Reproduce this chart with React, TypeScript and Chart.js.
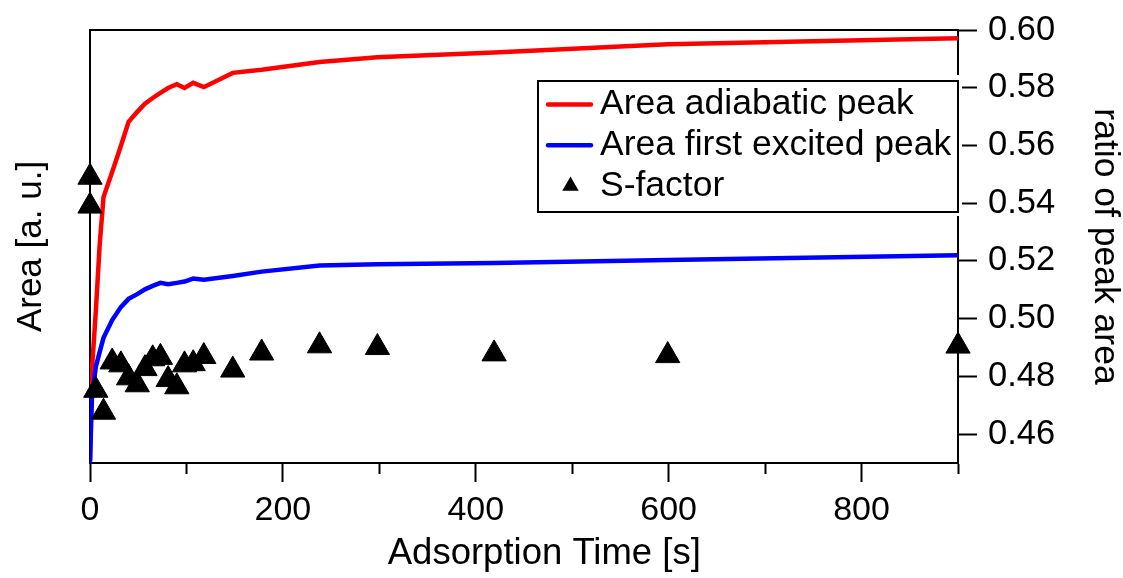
import React, { useEffect, useRef } from 'react';
import { Chart, registerables } from 'chart.js';

Chart.register(...registerables);

// ---- data ----
const lineTimes = [0, 2, 6, 10, 14, 23, 32, 40, 49, 57, 65, 73, 81, 90, 98, 107, 118, 148, 178, 238, 298, 419, 599, 900];
const adiabaticArea = [0.7, 21.5, 34.9, 50.3, 61.4, 67.2, 73.2, 78.8, 81.1, 83.0, 84.3, 85.5, 86.6, 87.5, 86.6, 87.8, 86.8, 90.1, 90.8, 92.6, 93.7, 94.8, 96.7, 98.1];
const excitedArea = [0, 15.2, 22.2, 25.6, 28.9, 33.0, 36.0, 37.9, 39.0, 40.1, 40.9, 41.6, 41.3, 41.6, 41.9, 42.6, 42.3, 43.2, 44.2, 45.6, 45.9, 46.2, 46.9, 48.0];
const sTimes = [0, 0, 6, 14, 23, 32, 40, 49, 57, 65, 73, 81, 90, 98, 107, 118, 148, 178, 238, 298, 419, 599, 900];
const sFactor = [0.549, 0.539, 0.4752, 0.4676, 0.485, 0.484, 0.4795, 0.4771, 0.4827, 0.4861, 0.4866, 0.4789, 0.4764, 0.484, 0.4844, 0.4869, 0.4822, 0.4881, 0.4906, 0.49, 0.4878, 0.4872, 0.4905];
const xTicks = [0, 100, 200, 300, 400, 500, 600, 700, 800, 900];
const xLabelTicks = [0, 200, 400, 600, 800];
const ratioTicks = [0.46, 0.48, 0.5, 0.52, 0.54, 0.56, 0.58, 0.6];

const labels = ['Area adiabatic peak', 'Area first excited peak', 'S-factor'];

const FONT = "'Liberation Sans', Arial, sans-serif";

const boxLegend = {
  id: 'boxLegend',
  afterDatasetsDraw(chart: any) {
    const { ctx, chartArea } = chart;
    const right = chartArea.right;
    const left = right - 421;
    const top = chartArea.top + 50;
    const bottom = top + 132;
    ctx.save();
    ctx.fillStyle = '#ffffff';
    ctx.fillRect(left - 4, top - 5, right - left + 8, bottom - top + 9);
    ctx.strokeStyle = '#000000';
    ctx.lineWidth = 2;
    ctx.strokeRect(left + 1, top + 1, right - left - 1, bottom - top - 1);
    ctx.font = `35.5px ${FONT}`;
    ctx.textBaseline = 'middle';
    ctx.textAlign = 'left';
    const ds = chart.data.datasets;
    const order = [0, 1, 2];
    order.forEach((di: number, row: number) => {
      const d = ds[di];
      const y = top + 24.5 + row * 40.7;
      if (d.showLine === false) {
        const cx = left + 33.5;
        const r = 9.5;
        ctx.fillStyle = '#000';
        ctx.beginPath();
        ctx.moveTo(cx, y - r);
        ctx.lineTo(cx + r * 0.866, y + r * 0.5);
        ctx.lineTo(cx - r * 0.866, y + r * 0.5);
        ctx.closePath();
        ctx.fill();
      } else {
        ctx.strokeStyle = d.borderColor;
        ctx.lineWidth = 4.5;
        ctx.lineCap = 'round';
        ctx.beginPath();
        ctx.moveTo(left + 11, y);
        ctx.lineTo(left + 54, y);
        ctx.stroke();
      }
      ctx.fillStyle = '#000';
      ctx.fillText(d.label, left + 63, y);
    });
    ctx.restore();
  },
};

export default function App() {
  const ref = useRef<HTMLCanvasElement | null>(null);

  useEffect(() => {
    document.body.style.margin = '0';
    const canvas = ref.current;
    if (!canvas) return;
    const chart = new Chart(canvas, {
      type: 'line',
      data: {
        datasets: [
          {
            label: labels[0],
            data: lineTimes.map((t, i) => ({ x: t, y: adiabaticArea[i] })),
            borderColor: '#ff0000',
            backgroundColor: '#ff0000',
            borderWidth: 4.5,
            pointRadius: 0,
            tension: 0,
            yAxisID: 'yArea',
            xAxisID: 'x',
            order: 2,
          },
          {
            label: labels[1],
            data: lineTimes.map((t, i) => ({ x: t, y: excitedArea[i] })),
            borderColor: '#0000ff',
            backgroundColor: '#0000ff',
            borderWidth: 4.5,
            pointRadius: 0,
            tension: 0,
            yAxisID: 'yArea',
            xAxisID: 'x',
            order: 1,
          },
          {
            label: labels[2],
            data: sTimes.map((t, i) => ({ x: t, y: sFactor[i] })),
            showLine: false,
            pointStyle: 'triangle',
            pointRadius: 14,
            pointBorderWidth: 1,
            pointBackgroundColor: '#000000',
            pointBorderColor: '#000000',
            borderColor: '#000000',
            backgroundColor: '#000000',
            yAxisID: 'yRatio',
            xAxisID: 'x',
            clip: false,
            order: 0,
          } as any,
        ],
      },
      options: {
        responsive: false,
        animation: false,
        events: [],
        layout: { padding: 0 },
        plugins: {
          legend: { display: false },
          tooltip: { enabled: false },
        },
        scales: {
          x: {
            type: 'linear',
            position: 'bottom',
            min: 0,
            max: 900,
            afterBuildTicks: (s: any) => {
              s.ticks = xTicks.map((v) => ({ value: v }));
            },
            afterFit: (s: any) => {
              s.height = 115;
            },
            ticks: {
              color: '#000',
              font: { family: FONT, size: 34, lineHeight: 1 },
              padding: 12,
              maxRotation: 0,
              autoSkip: false,
              callback: (v: any) => (xLabelTicks.includes(Number(v)) ? String(v) : ''),
            },
            grid: {
              drawOnChartArea: false,
              drawTicks: true,
              tickLength: 19,
              tickWidth: 2,
              tickColor: '#000',
              tickBorderDash: (c: any) => (c.tick && c.tick.value % 200 !== 0 ? [10, 100] : []),
            },
            border: { display: true, color: '#000', width: 2 },
            title: {
              display: true,
              text: '    Adsorption Time [s]',
              color: '#000',
              font: { family: FONT, size: 36.5, lineHeight: 1 },
              padding: { top: 0, bottom: 6 },
            },
          },
          xTop: {
            type: 'linear',
            position: 'top',
            min: 0,
            max: 900,
            afterFit: (s: any) => {
              s.height = 30;
            },
            ticks: { display: false },
            grid: { drawOnChartArea: false, drawTicks: false },
            border: { display: true, color: '#000', width: 2 },
          },
          yArea: {
            type: 'linear',
            position: 'left',
            min: 0,
            max: 100,
            afterFit: (s: any) => {
              s.width = 90;
            },
            ticks: { display: false },
            grid: { drawOnChartArea: false, drawTicks: false },
            border: { display: true, color: '#000', width: 2 },
            title: {
              display: true,
              text: 'Area [a. u.]',
              color: '#000',
              font: { family: FONT, size: 35, lineHeight: 1 },
              padding: { top: 13.5, bottom: 0 },
            },
          },
          yRatio: {
            type: 'linear',
            position: 'right',
            min: 0.45,
            max: 0.6,
            afterBuildTicks: (s: any) => {
              s.ticks = ratioTicks.map((v) => ({ value: v }));
            },
            afterFit: (s: any) => {
              s.width = 165;
            },
            ticks: {
              color: '#000',
              font: { family: FONT, size: 34.5, lineHeight: 1 },
              padding: 11,
              autoSkip: false,
              callback: (v: any) => Number(v).toFixed(2),
            },
            grid: {
              drawOnChartArea: false,
              drawTicks: true,
              tickLength: 19,
              tickWidth: 2,
              tickColor: '#000',
            },
            border: { display: true, color: '#000', width: 2 },
            title: {
              display: true,
              text: 'ratio of peak area',
              color: '#000',
              font: { family: FONT, size: 35.5, lineHeight: 1 },
              padding: { top: 0.5, bottom: 0 },
            },
          },
        },
      } as any,
      plugins: [boxLegend],
    });
    return () => chart.destroy();
  }, []);

  return (
    <div style={{ position: 'absolute', left: 0, top: 0, width: 1123, height: 578, background: '#fff' }}>
      <canvas ref={ref} width={1123} height={578} style={{ display: 'block', width: 1123, height: 578 }} />
    </div>
  );
}
